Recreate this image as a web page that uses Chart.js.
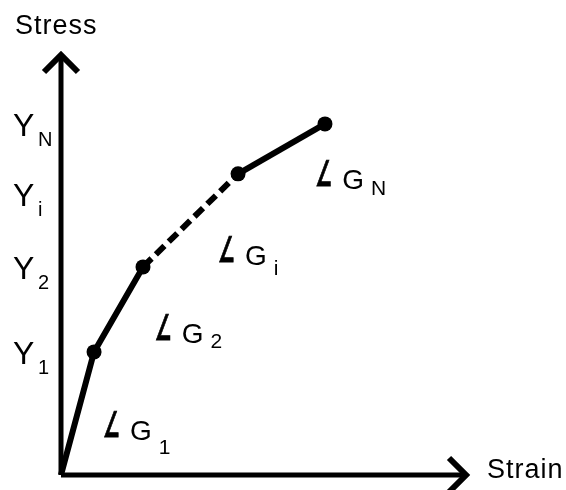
<!DOCTYPE html>
<html>
<head>
<meta charset="utf-8">
<script src="https://cdn.jsdelivr.net/npm/chart.js@4.4.1/dist/chart.umd.min.js"></script>
<style>
  html, body { margin: 0; background: #fff; }
</style>
</head>
<body>
<canvas id="chart" width="566" height="490"></canvas>
<script>
// Piecewise-linear stress/strain curve (multilinear hardening sketch)
const strain = [0, 0.81, 2.01, 4.34, 6.47]
const stress = [0, 2.91, 4.92, 7.12, 8.30]

// Stress levels marked on the vertical axis
const yTickValues = [2.91, 4.92, 6.64, 8.30]
const yTickSubs   = ["1", "2", "i", "N"]

// Slope labels for each segment
const slopeSubs = ["1", "2", "i", "N"]

const xTitle = "Strain"
const yTitle = "Stress"

const FONT = "'Liberation Sans', Arial, sans-serif"

// where the slope labels sit, in data units
const slopeLabelAt = [
  { x: 1.03, y: 0.83, subDy: 14 },
  { x: 2.30, y: 3.12, subDy: 5 },
  { x: 3.85, y: 4.96, subDy: 10 },
  { x: 6.23, y: 6.76, subDy: 6 },
]

const diagram = {
  id: "diagram",
  beforeDatasetsDraw(chart) {
    const { ctx, chartArea: a } = chart
    ctx.save()
    ctx.strokeStyle = "#000"
    ctx.lineWidth = 5
    ctx.lineJoin = "miter"
    ctx.lineCap = "butt"
    // axes
    ctx.beginPath()
    ctx.moveTo(a.left, a.bottom)
    ctx.lineTo(a.left, a.top + 2)
    ctx.moveTo(a.left, a.bottom)
    ctx.lineTo(a.right - 2, a.bottom)
    ctx.stroke()
    // arrow heads
    ctx.lineWidth = 6
    ctx.beginPath()
    ctx.moveTo(a.left - 17, a.top + 20)
    ctx.lineTo(a.left, a.top + 3)
    ctx.lineTo(a.left + 17, a.top + 20)
    ctx.moveTo(a.right - 20, a.bottom - 17)
    ctx.lineTo(a.right - 3, a.bottom)
    ctx.lineTo(a.right - 20, a.bottom + 17)
    ctx.stroke()
    ctx.restore()
  },
  afterDatasetsDraw(chart) {
    const { ctx, chartArea: a, scales: { x, y } } = chart
    ctx.save()
    ctx.fillStyle = "#000"
    ctx.strokeStyle = "#000"
    ctx.textAlign = "left"
    ctx.textBaseline = "alphabetic"
    ctx.letterSpacing = "1px"

    // axis titles
    ctx.font = `27px ${FONT}`
    ctx.fillText(yTitle, 15, 34)
    ctx.fillText(xTitle, a.right + 18, a.bottom + 3)

    // Y_k labels
    yTickValues.forEach((v, i) => {
      const py = y.getPixelForValue(v) + 12
      ctx.font = `32px ${FONT}`
      ctx.fillText("Y", 13, py)
      ctx.font = `20px ${FONT}`
      ctx.fillText(yTickSubs[i], 38, py + 10)
    })

    // slope labels  ∠ G_k
    slopeLabelAt.forEach((p, i) => {
      const px = x.getPixelForValue(p.x)
      const py = y.getPixelForValue(p.y)
      // narrow, steep angle sign
      ctx.save()
      ctx.translate(px, py - 3)
      ctx.scale(0.62, 1.18)
      ctx.letterSpacing = "0px"
      ctx.lineWidth = 0.8
      ctx.font = `bold 30px 'DejaVu Sans', sans-serif`
      ctx.fillText("\u2220", 0, 0)
      ctx.strokeText("\u2220", 0, 0)
      ctx.restore()
      ctx.font = `28px ${FONT}`
      ctx.fillText("G", px + 27, py)
      const gw = ctx.measureText("G").width
      ctx.font = `21px ${FONT}`
      ctx.fillText(slopeSubs[i], px + 27 + gw + 6, py + p.subDy)
    })
    ctx.restore()
  }
}

new Chart(document.getElementById("chart"), {
  type: "line",
  data: {
    datasets: [{
      data: strain.map((s, i) => ({ x: s, y: stress[i] })),
      borderColor: "#000",
      backgroundColor: "#000",
      borderWidth: 6,
      borderCapStyle: "butt",
      pointRadius: (c) => c.dataIndex === 0 ? 0 : 7.5,
      pointBorderWidth: 0,
      tension: 0,
      clip: false,
      segment: {
        borderDash: (c) => c.p0DataIndex === 2 ? [12, 6] : undefined,
      },
    }]
  },
  options: {
    responsive: false,
    animation: false,
    events: [],
    layout: { padding: { left: 61, right: 97, top: 52, bottom: 15 } },
    scales: {
      x: { type: "linear", min: 0, max: 10, display: false },
      y: { type: "linear", min: 0, max: 10, display: false },
    },
    plugins: {
      legend: { display: false },
      tooltip: { enabled: false },
    },
  },
  plugins: [diagram],
})
</script>
</body>
</html>
